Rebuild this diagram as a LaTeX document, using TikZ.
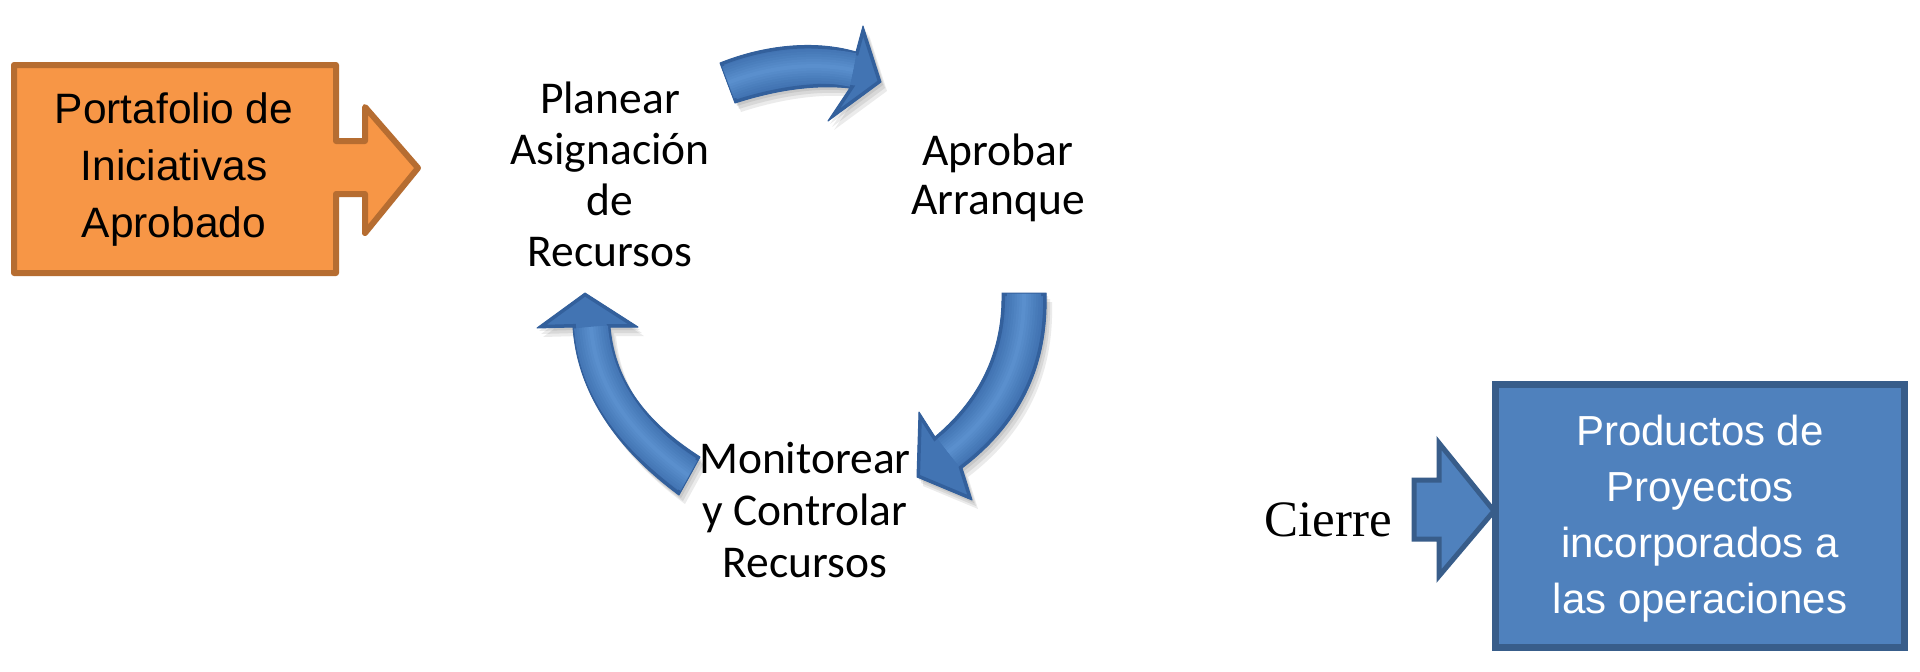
\documentclass[tikz,border=0pt]{standalone}
\usepackage{fontspec}
\newfontfamily\carl{Carlito}
\newfontfamily\arial{Liberation Sans}
\newfontfamily\serifc{Liberation Serif}
\definecolor{orfill}{HTML}{F79646}
\definecolor{ordraw}{HTML}{B66D31}
\definecolor{blfill}{HTML}{4F81BD}
\definecolor{bldraw}{HTML}{385D8A}
\definecolor{arrA}{HTML}{33609C}
\definecolor{arrB}{HTML}{4274B3}
\definecolor{arrD}{HTML}{5A8FCD}
\def\arrowtop{(720,63) .. controls (765,45) and (815,40) .. (856,52) -- (863,26) -- (881,82) -- (828,121) -- (850,88) .. controls (815,84) and (775,90) .. (735,103) -- cycle}
\def\arrowright{(1046,293) .. controls (1048,360) and (1025,420) .. (962,468) -- (972,500) -- (917,477) -- (919,412) -- (935,437) .. controls (985,395) and (1003,345) .. (1002,293) -- cycle}
\def\arrowleft{(679,495) .. controls (625,455) and (578,400) .. (573,327) -- (537,328) -- (585,293) -- (638,327) -- (610,327) .. controls (615,385) and (650,425) .. (700,457) -- cycle}
\def\ctop{(722,85) .. controls (768,66) and (815,62) .. (853,70)}
\def\cright{(1024,290) .. controls (1025,352) and (1005,408) .. (948,452)}
\def\cleft{(692,478) .. controls (637,440) and (596,392) .. (591,327)}
\tikzset{
  cyc/.style={font=\carl\fontsize{45.5}{51}\selectfont, align=center, inner sep=0pt, anchor=north},
  boxtext/.style={font=\arial\fontsize{42.5}{57}\selectfont, align=center, inner sep=0pt, anchor=north},
  shadowpart/.style={fill=black, opacity=0.08},
  arrowedge/.style={draw=arrA, line width=1pt, line join=round},
}
\newcommand{\fancyarrow}[2]{%
  \fill[shadowpart, shift={(2,3)}] #1;
  \fill[shadowpart, shift={(4,6)}] #1;
  \fill[shadowpart, shift={(6,9)}] #1;
  \begin{scope}
    \clip #1;
    \fill[arrB] (0,0) rectangle (1920,672);
    \draw[arrA, line width=6pt] #1;
    \foreach \w/\c in {34/12, 29/25, 24/40, 19/55, 14/70, 9/85, 4/100}
      \draw[arrD!\c!arrB, line width=\w pt] #2;
  \end{scope}
  \draw[arrowedge] #1;
}
\begin{document}
\begin{tikzpicture}[x=1pt,y=-1pt]
\useasboundingbox[fill=white] (0,0) rectangle (1920,672);

% orange input shape
\draw[fill=orfill, draw=ordraw, line width=6pt, line join=round]
  (14,65) -- (336,65) -- (336,141) -- (365,141) -- (365,107) -- (418,168)
  -- (365,233) -- (365,194) -- (336,194) -- (336,273) -- (14,273) -- cycle;
\node[boxtext] (port) at (174,89) {\rule{0pt}{34pt}Portafolio de\\Iniciativas\\Aprobado};

% cycle texts
\node[cyc] (plan) at (610,77) {\rule{0pt}{36pt}Planear\\Asignación\\de\\Recursos};
\node[cyc, font=\carl\fontsize{45.5}{49}\selectfont] (aprob) at (998,129) {\rule{0pt}{36pt}Aprobar\\Arranque};
\node[cyc, font=\carl\fontsize{45.5}{52}\selectfont] (monit) at (805,437) {\rule{0pt}{36pt}Monitorear\\y Controlar\\Recursos};

% curved arrows
\fancyarrow{\arrowtop}{\ctop}
\fancyarrow{\arrowright}{\cright}
\fancyarrow{\arrowleft}{\cleft}

% closing
\node[font=\serifc\fontsize{51}{60}\selectfont, inner sep=0pt, anchor=base] (cierre) at (1328,536) {Cierre};
\draw[fill=blfill, draw=bldraw, line width=5pt, line join=miter]
  (1414,480) -- (1439,480) -- (1439,443) -- (1494,511) -- (1439,576) -- (1439,539) -- (1414,539) -- cycle;
\node[draw=bldraw, fill=blfill, line width=7pt, inner sep=0pt, minimum width=409pt, minimum height=263pt] (prod) at (1699.5,515.5) {};
\node[boxtext, font=\arial\fontsize{42}{56}\selectfont, text=white] (prodtxt) at (1700,411) {\rule{0pt}{34pt}Productos de\\Proyectos\\incorporados a\\las operaciones};
\end{tikzpicture}
\end{document}
